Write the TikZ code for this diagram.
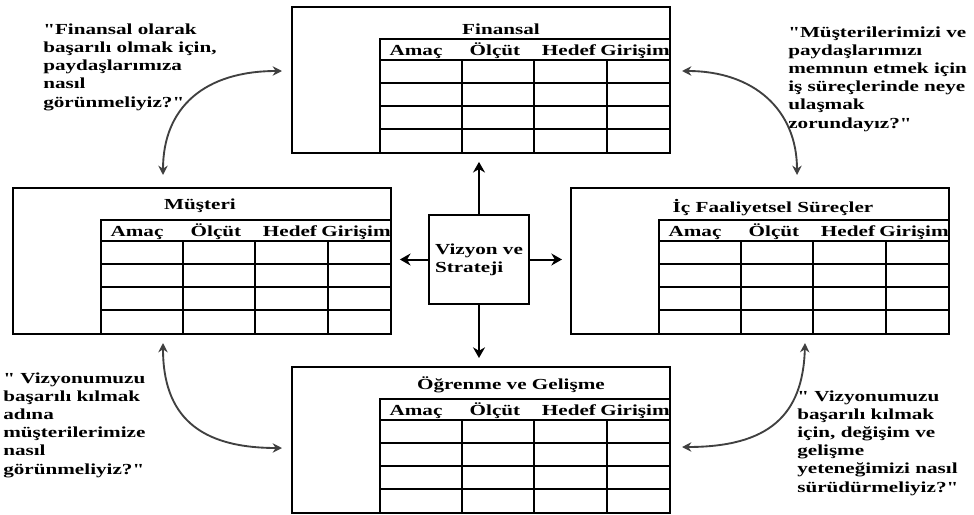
\documentclass[tikz,border=0pt]{standalone}
\usepackage{fontspec}
\newfontfamily\bscfont[FakeStretch=1.38,Ligatures=TeXOff]{Liberation Serif}
\newcommand\bscsize{\fontsize{11.5pt}{13.6pt}\selectfont}
\usetikzlibrary{arrows.meta}

\begin{document}
\begin{tikzpicture}
[x=0.75pt,y=-0.75pt,
  persbox/.style={draw,line width=1.4pt,minimum width=283.5pt,minimum height=109.5pt,
    inner sep=0pt,anchor=north west},
  gridline/.style={line width=1.4pt},
  titletext/.style={font=\bscfont\bfseries\bscsize,anchor=base,inner sep=0pt},
  headtext/.style={font=\bscfont\bfseries\bscsize,anchor=base,inner sep=0pt},
  quotetext/.style={font=\bscfont\bfseries\bscsize,align=left,anchor=base west,inner sep=0pt},
  visbox/.style={draw,line width=1.4pt,minimum width=75pt,minimum height=66.75pt,
    inner sep=0pt,align=left,font=\bscfont\bfseries\bscsize},
  mainarrow/.style={line width=1.5pt,-{Stealth[length=8pt,width=9pt]},shorten >=6pt},
  loopline/.style={line width=1.4pt,black!75,{Stealth[length=7pt,width=7pt]}-{Stealth[length=7pt,width=7pt]}}]
\useasboundingbox (0,0) rectangle (974,514);
%% perspective boxes with their tables
\foreach \bname/\bx/\by/\btitle/\tx/\ty in {fin/291/6/Finansal/210/28,
    mus/12/187/Müşteri/188/22, ic/570/187/{İç Faaliyetsel Süreçler}/203/25,
    ogr/291/366/{Öğrenme ve Gelişme}/220/23} {
  \node[persbox] (\bname) at (\bx,\by) {};
  \begin{scope}[shift={(\bx,\by)}]
    \node[titletext] (\bname-title) at (\tx,\ty) {\btitle};
    \draw[gridline] (89,146) -- (89,33) -- (378,33);
    \draw[gridline] (89,54) -- (378,54);
    \foreach \ry in {77,100,123} \draw[gridline] (89,\ry) -- (378,\ry);
    \foreach \cx in {171,243,316} \draw[gridline] (\cx,54) -- (\cx,146);
    \foreach \lab/\lx [count=\k] in {Amaç/125, Ölçüt/204, Hedef/278, Girişim/344}
      \node[headtext] (\bname-h\k) at (\lx,49) {\lab};
  \end{scope}
}
%% vision and strategy in the middle
\node[visbox] (vis) at (479,259.5) {Vizyon ve\\Strateji};
\draw[mainarrow] (vis.north) -- (vis.north |- fin.south);
\draw[mainarrow] (vis.south) -- (vis.south |- ogr.north);
\draw[mainarrow] (vis.west) -- (vis.west -| mus.east);
\draw[mainarrow] (vis.east) -- (vis.east -| ic.west);
%% questions (placed at the baseline of their last line)
\node[quotetext] (q-fin) at (43,107) {"Finansal olarak\\başarılı olmak için,\\paydaşlarımıza\\nasıl\\görünmeliyiz?"};
\node[quotetext] (q-ic) at (788,128) {"Müşterilerimizi ve\\paydaşlarımızı\\memnun etmek için\\iş süreçlerinde neye\\ulaşmak\\zorundayız?"};
\node[quotetext] (q-mus) at (3,474) {" Vizyonumuzu\\başarılı kılmak\\adına\\müşterilerimize\\nasıl\\görünmeliyiz?"};
\node[quotetext] (q-ogr) at (797,492) {" Vizyonumuzu\\başarılı kılmak\\için, değişim ve\\gelişme\\yeteneğimizi nasıl\\sürüdürmeliyiz?"};
%% curved links between perspectives
\coordinate (tl-a) at (163,175); \coordinate (tl-b) at (282,71);
\coordinate (tr-a) at (682,71);  \coordinate (tr-b) at (797,175);
\coordinate (bl-a) at (163,343); \coordinate (bl-b) at (282,448);
\coordinate (br-a) at (805,343); \coordinate (br-b) at (682,447);
\draw[loopline] (tl-a) .. controls +(0,-68) and +(-77,0) .. (tl-b);
\draw[loopline] (tr-a) .. controls +(72,0) and +(0,-65) .. (tr-b);
\draw[loopline] (bl-a) .. controls +(0,73) and +(-83,0) .. (bl-b);
\draw[loopline] (br-a) .. controls +(-2,73) and +(86,0) .. (br-b);
\end{tikzpicture}
\end{document}
